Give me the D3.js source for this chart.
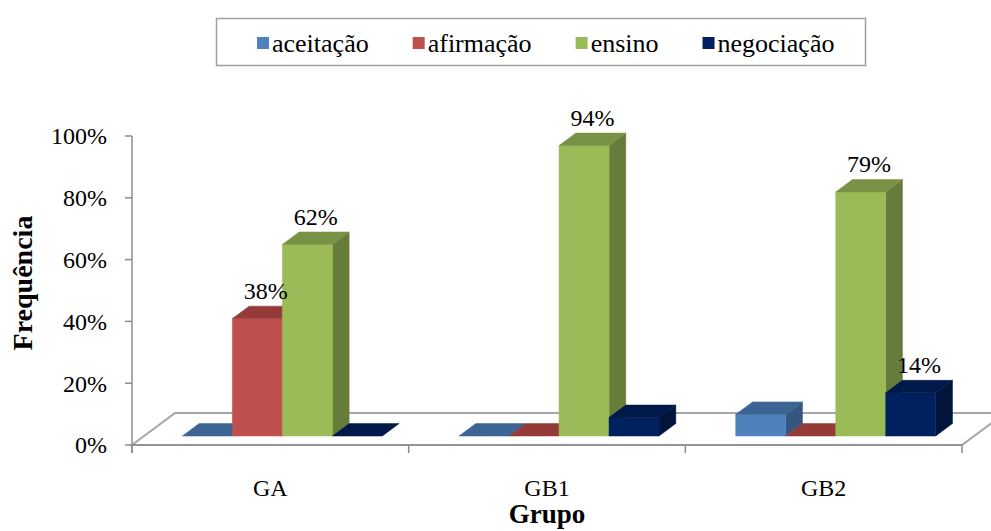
<!DOCTYPE html>
<html>
<head>
<meta charset="utf-8">
<script src="https://cdn.jsdelivr.net/npm/d3@7"></script>
<style>
  body { margin: 0; background: #fff; }
  svg text { font-family: "Liberation Serif", "Times New Roman", serif; fill: #000; }
</style>
</head>
<body>
<svg id="chart" width="991" height="531"></svg>
<script>
// Categories and series
const groups = ["GA", "GB1", "GB2"];
const seriesNames = ["aceitação", "afirmação", "ensino", "negociação"];

// Percent values per group (GA, GB1, GB2)
const aceitacao  = [0, 0, 7];
const afirmacao  = [38, 0, 0];
const ensino     = [62, 94, 79];
const negociacao = [0, 6, 14];

// Which bars carry a data label
const labelAceitacao  = [false, false, false];
const labelAfirmacao  = [true, false, false];
const labelEnsino     = [true, true, true];
const labelNegociacao = [false, false, true];

const yTicks = [0, 20, 40, 60, 80, 100];

const seriesValues = [aceitacao, afirmacao, ensino, negociacao];
const seriesLabels = [labelAceitacao, labelAfirmacao, labelEnsino, labelNegociacao];

// Face colours: front, top, side
const palette = [
  { front: "#4F81BD", top: "#3D6593", side: "#34567F" },
  { front: "#C0504D", top: "#943B39", side: "#7E3230" },
  { front: "#9BBB59", top: "#789245", side: "#667C3A" },
  { front: "#002060", top: "#00184A", side: "#00143C" }
];

const svg = d3.select("#chart");

// Plot frame (front plane of the 3D box)
const plotLeft = 132, plotRight = 962, plotBase = 445, plotTop = 136;
// Oblique depth offset for full floor depth
const DX = 43, DY = 32;
// Depth slice occupied by the bars
const z0 = 0.28, z1 = 0.67;

const x0 = d3.scaleBand().domain(groups).range([plotLeft, plotRight])
  .paddingInner(0.277).paddingOuter(0.1385);
const x1 = d3.scaleBand().domain(seriesNames).range([0, x0.bandwidth()]);
const y = d3.scaleLinear().domain([0, 100]).range([plotBase, plotTop]);

const proj = (px, py, z) => [px + z * DX, py - z * DY];
const line = d3.line();

// Floor
const floorPts = [proj(plotLeft, plotBase, 0), proj(plotRight, plotBase, 0), proj(plotRight, plotBase, 1), proj(plotLeft, plotBase, 1)];
svg.append("path")
  .attr("d", line(floorPts) + "Z")
  .attr("fill", "#fff")
  .attr("stroke", "#A6A6A6")
  .attr("stroke-width", 2);

// Value axis
const yAxis = svg.append("g").attr("class", "y-axis");
yAxis.append("line")
  .attr("x1", plotLeft).attr("x2", plotLeft)
  .attr("y1", y(100)).attr("y2", plotBase + 8)
  .attr("stroke", "#8C8C8C").attr("stroke-width", 1.5);
yAxis.selectAll("line.tick").data(yTicks).join("line")
  .attr("class", "tick")
  .attr("x1", plotLeft - 7).attr("x2", plotLeft)
  .attr("y1", d => y(d)).attr("y2", d => y(d))
  .attr("stroke", "#8C8C8C").attr("stroke-width", 1.5);
yAxis.selectAll("text").data(yTicks).join("text")
  .attr("x", 107).attr("y", d => y(d))
  .attr("dy", "0.35em")
  .attr("text-anchor", "end")
  .attr("font-size", 24)
  .text(d => d + "%");

// Category axis
const xAxis = svg.append("g").attr("class", "x-axis");
xAxis.append("line")
  .attr("x1", plotLeft).attr("x2", plotRight)
  .attr("y1", plotBase).attr("y2", plotBase)
  .attr("stroke", "#8C8C8C").attr("stroke-width", 1.5);
const boundaries = [plotLeft].concat(groups.map(g => x0(g) + x0.bandwidth() + x0.step() * x0.paddingInner() / 2));
boundaries[boundaries.length - 1] = plotRight;
xAxis.selectAll("line.tick").data(boundaries).join("line")
  .attr("class", "tick")
  .attr("x1", d => d).attr("x2", d => d)
  .attr("y1", plotBase).attr("y2", plotBase + 8)
  .attr("stroke", "#8C8C8C").attr("stroke-width", 1.5);
xAxis.selectAll("text").data(groups).join("text")
  .attr("x", g => x0(g) + x0.bandwidth() / 2)
  .attr("y", 488)
  .attr("dy", "0.35em")
  .attr("text-anchor", "middle")
  .attr("font-size", 24)
  .text(g => g);

// Axis titles
svg.append("text")
  .attr("x", (plotLeft + plotRight) / 2).attr("y", 523)
  .attr("text-anchor", "middle")
  .attr("font-size", 27).attr("font-weight", "bold")
  .text("Grupo");
svg.append("text")
  .attr("transform", "translate(22,283) rotate(-90)")
  .attr("dy", "0.35em")
  .attr("text-anchor", "middle")
  .attr("font-size", 28).attr("font-weight", "bold")
  .text("Frequência");

// 3D bars, drawn left to right so nearer side faces overlap correctly
const bars = svg.append("g").attr("class", "bars");
const labels = svg.append("g").attr("class", "labels");
groups.forEach((g, gi) => {
  seriesNames.forEach((s, si) => {
    const v = seriesValues[si][gi];
    const c = palette[si];
    const xa = x0(g) + x1(s), xb = xa + x1.bandwidth();
    const yb = y(0), yt = y(v);
    const fBL = proj(xa, yb, z0), fBR = proj(xb, yb, z0);
    const fTL = proj(xa, yt, z0), fTR = proj(xb, yt, z0);
    const bTL = proj(xa, yt, z1), bTR = proj(xb, yt, z1), bBR = proj(xb, yb, z1);
    const grp = bars.append("g");
    if (v > 0) {
      grp.append("path").attr("d", line([fTR, bTR, bBR, fBR]) + "Z")
        .attr("fill", c.side).attr("stroke", c.side).attr("stroke-width", 0.5);
      grp.append("path").attr("d", line([fBL, fBR, fTR, fTL]) + "Z")
        .attr("fill", c.front).attr("stroke", c.front).attr("stroke-width", 0.5);
    }
    grp.append("path").attr("d", line([fTL, fTR, bTR, bTL]) + "Z")
      .attr("fill", c.top).attr("stroke", c.top).attr("stroke-width", 0.5);
    if (seriesLabels[si][gi]) {
      // centred over the middle of the top face
      labels.append("text")
        .attr("x", (fTL[0] + bTR[0]) / 2)
        .attr("y", bTL[1] - 7)
        .attr("text-anchor", "middle")
        .attr("font-size", 24)
        .text(v + "%");
    }
  });
});

// Legend
const legend = svg.append("g").attr("class", "legend");
legend.append("rect")
  .attr("x", 216.5).attr("y", 18.5).attr("width", 649).attr("height", 47)
  .attr("fill", "#fff").attr("stroke", "#A0A0A0").attr("stroke-width", 1.5);
const items = legend.selectAll("g.item").data(seriesNames).join("g").attr("class", "item");
items.append("rect")
  .attr("width", 12).attr("height", 12)
  .attr("y", 37)
  .attr("fill", (d, i) => palette[i].front);
items.append("text")
  .attr("x", 15).attr("y", 43)
  .attr("dy", "0.35em")
  .attr("font-size", 26)
  .text(d => d);
// Lay legend entries out in a row
const gap = 44;
const widths = items.nodes().map(n => 15 + d3.select(n).select("text").node().getComputedTextLength());
let cursor = 257;
items.each(function (d, i) {
  d3.select(this).attr("transform", `translate(${cursor},0)`);
  cursor += widths[i] + gap;
});
</script>
</body>
</html>
